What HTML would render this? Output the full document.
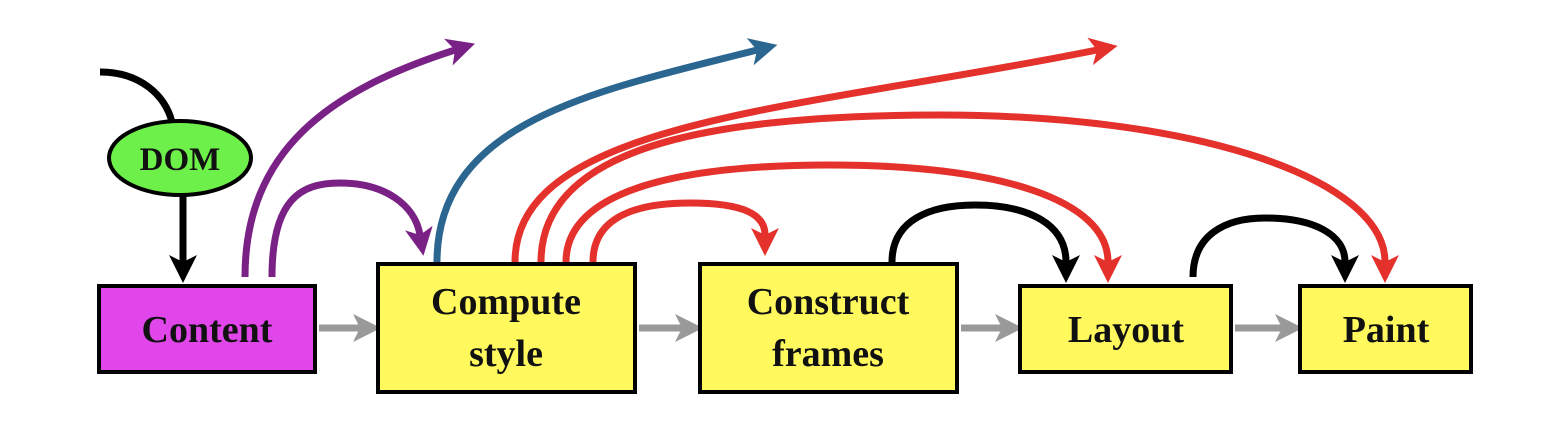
<!DOCTYPE html>
<html><head><meta charset="utf-8"><style>
html,body{margin:0;padding:0;background:#fff;}
svg{display:block;}
text{font-family:"Liberation Serif",serif;font-weight:bold;fill:#111;}
</style></head><body>
<svg width="1554" height="438" viewBox="0 0 1554 438" xmlns="http://www.w3.org/2000/svg">
<defs>
<marker id="aK" markerWidth="4" markerHeight="4" refX="1" refY="2" orient="auto" markerUnits="strokeWidth"><path d="M0,0 L4,2 L0,4 L1,2Z" fill="#000"/></marker>
<marker id="aP" markerWidth="4" markerHeight="4" refX="1" refY="2" orient="auto" markerUnits="strokeWidth"><path d="M0,0 L4,2 L0,4 L1,2Z" fill="#7a2186"/></marker>
<marker id="aB" markerWidth="4" markerHeight="4" refX="1" refY="2" orient="auto" markerUnits="strokeWidth"><path d="M0,0 L4,2 L0,4 L1,2Z" fill="#2b6690"/></marker>
<marker id="aR" markerWidth="4" markerHeight="4" refX="1" refY="2" orient="auto" markerUnits="strokeWidth"><path d="M0,0 L4,2 L0,4 L1,2Z" fill="#e4312b"/></marker>
<marker id="aG" markerWidth="4" markerHeight="4" refX="1" refY="2" orient="auto" markerUnits="strokeWidth"><path d="M0,0 L4,2 L0,4 L1,2Z" fill="#999"/></marker>
</defs>
<g fill="none" stroke-width="7" stroke-linecap="butt">
<path d="M100,72 C140,72 165,95 172,122" stroke="#000"/>
<path d="M183,196 L183,262" stroke="#000" marker-end="url(#aK)"/>
<path d="M245,277 C245,150 330,90 455,50" stroke="#7a2186" marker-end="url(#aP)"/>
<path d="M272,277 C272,200 300,183 340,183 C385,183 415,205 420,235" stroke="#7a2186" marker-end="url(#aP)"/>
<path d="M437,262 C437,120 600,90 757,50" stroke="#2b6690" marker-end="url(#aB)"/>
<path d="M515,262 C515,120 800,110 1097,50" stroke="#e4312b" marker-end="url(#aR)"/>
<path d="M541,262 C541,150 700,115 940,115 C1200,115 1385,180 1385,262" stroke="#e4312b" marker-end="url(#aR)"/>
<path d="M566,262 C566,190 680,165 830,165 C1000,165 1108,200 1108,262" stroke="#e4312b" marker-end="url(#aR)"/>
<path d="M593,262 C593,215 640,203 690,203 C745,203 765,215 765,235" stroke="#e4312b" marker-end="url(#aR)"/>
<path d="M892,262 C892,220 930,205 975,205 C1030,205 1066,225 1066,262" stroke="#000" marker-end="url(#aK)"/>
<path d="M1193,277 C1193,235 1225,218 1265,218 C1315,218 1345,235 1345,262" stroke="#000" marker-end="url(#aK)"/>
<path d="M319,328 L360,328" stroke="#999" marker-end="url(#aG)"/>
<path d="M639,328 L682,328" stroke="#999" marker-end="url(#aG)"/>
<path d="M961,328 L1002,328" stroke="#999" marker-end="url(#aG)"/>
<path d="M1235,328 L1282,328" stroke="#999" marker-end="url(#aG)"/>
</g>
<ellipse cx="180" cy="158" rx="71" ry="37" fill="#6ef04a" stroke="#000" stroke-width="4"/>
<text x="180" y="170" font-size="33" text-anchor="middle">DOM</text>
<g stroke="#000" stroke-width="4">
<rect x="99" y="286" width="216" height="86" fill="#e046ea"/>
<rect x="378" y="264" width="257" height="128" fill="#fff95e"/>
<rect x="700" y="264" width="257" height="128" fill="#fff95e"/>
<rect x="1020" y="286" width="211" height="86" fill="#fff95e"/>
<rect x="1300" y="286" width="171" height="86" fill="#fff95e"/>
</g>
<g font-size="38" text-anchor="middle">
<text x="207" y="342">Content</text>
<text x="506" y="314">Compute</text>
<text x="506" y="366">style</text>
<text x="828" y="314">Construct</text>
<text x="828" y="366">frames</text>
<text x="1126" y="342">Layout</text>
<text x="1386" y="342">Paint</text>
</g>
</svg>
</body></html>
